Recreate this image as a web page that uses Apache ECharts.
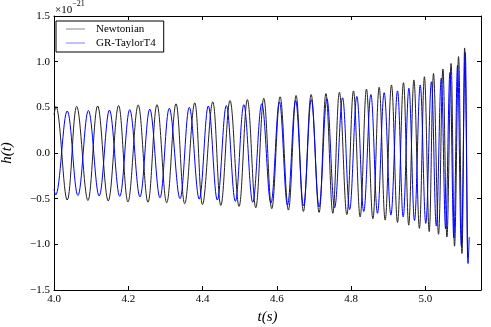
<!DOCTYPE html>
<html>
<head>
<meta charset="utf-8">
<script src="https://cdn.jsdelivr.net/npm/echarts@6/dist/echarts.min.js"></script>
<style>
  html, body { margin: 0; padding: 0; background: #fff; }
  #chart { width: 491px; height: 327px; }
</style>
</head>
<body>
<div id="chart"></div>
<script>
  // peaks / troughs, t in s, h in units of 1e-21
  const newtonianT = [4.0000, 4.0051, 4.0356, 4.0612, 4.0914, 4.1175, 4.1461, 4.1739, 4.1992, 4.2267,
    4.2531, 4.2774, 4.3035, 4.3286, 4.3520, 4.3790, 4.4000, 4.4275, 4.4493, 4.4741,
    4.4984, 4.5208, 4.5434, 4.5650, 4.5865, 4.6089, 4.6313, 4.6520, 4.6717, 4.6925,
    4.7140, 4.7323, 4.7509, 4.7687, 4.7887, 4.8065, 4.8245, 4.8415, 4.8588, 4.8757,
    4.8919, 4.9089, 4.9251, 4.9412, 4.9553, 4.9693, 4.9841, 4.9976, 5.0105, 5.0221,
    5.0356, 5.0474, 5.0582, 5.0693, 5.0787, 5.0895, 5.0987, 5.1059, 5.1137]
  const newtonianH = [0.42, 0.51, -0.515, 0.51, -0.52, 0.515, -0.525, 0.52, -0.535, 0.525,
    -0.54, 0.53, -0.545, 0.54, -0.555, 0.55, -0.565, 0.56, -0.575, 0.575,
    -0.585, 0.585, -0.60, 0.60, -0.61, 0.615, -0.625, 0.63, -0.64, 0.64,
    -0.65, 0.65, -0.66, 0.665, -0.675, 0.68, -0.70, 0.70, -0.72, 0.72,
    -0.735, 0.745, -0.76, 0.77, -0.79, 0.80, -0.825, 0.835, -0.86, 0.87,
    -0.89, 0.92, -0.92, 0.98, -1.02, 1.055, -1.10, 1.15, -1.15]

  const taylorT = [4.0000, 4.0043, 4.0356, 4.0644, 4.0927, 4.1216, 4.1493, 4.1771, 4.2040, 4.2315,
    4.2580, 4.2854, 4.3105, 4.3394, 4.3644, 4.3911, 4.4156, 4.4399, 4.4642, 4.4884,
    4.5113, 4.5353, 4.5596, 4.5841, 4.6070, 4.6288, 4.6507, 4.6720, 4.6930, 4.7140,
    4.7350, 4.7558, 4.7771, 4.7962, 4.8156, 4.8342, 4.8534, 4.8712, 4.8892, 4.9073,
    4.9251, 4.9404, 4.9558, 4.9709, 4.9863, 5.0013, 5.0164, 5.0296, 5.0429, 5.0547,
    5.0663, 5.0768, 5.0868, 5.0970, 5.1075, 5.1151, 5.1183]
  const taylorH = [-0.40, -0.46, 0.46, -0.465, 0.465, -0.47, 0.47, -0.475, 0.475, -0.48,
    0.48, -0.49, 0.49, -0.50, 0.50, -0.505, 0.515, -0.515, 0.52, -0.53,
    0.53, -0.54, 0.54, -0.55, 0.56, -0.57, 0.575, -0.58, 0.585, -0.59,
    0.595, -0.60, 0.605, -0.62, 0.62, -0.64, 0.64, -0.66, 0.66, -0.68,
    0.68, -0.70, 0.71, -0.74, 0.745, -0.77, 0.78, -0.80, 0.82, -0.83,
    0.88, -0.93, 0.96, -1.02, 1.10, -1.21, -0.92]

  const serif = 'Liberation Serif'
  const fmt = (v) => v.toFixed(1).replace('-', '\u2212')
  // thin line used as legend sample (corner moves keep the box size)
  const lineIcon = 'path://M0,0 M19,12 M0,5.5 L19,5.5 L19,6.5 L0,6.5 Z'

  const chart = echarts.init(document.getElementById('chart'))

  const frameAxis = {
    axisLine: { show: true, onZero: false, lineStyle: { color: '#000', width: 1 } },
    axisTick: { show: true, inside: true, length: 4, lineStyle: { color: '#000' } },
    splitLine: { show: false },
  }

  const option = {
    animation: false,
    backgroundColor: '#fff',
    grid: { left: 54, right: 10, top: 16, bottom: 37, outerBoundsMode: 'none' },
    legend: {
      orient: 'vertical',
      left: 56,
      top: 21,
      itemWidth: 19,
      itemHeight: 12,
      itemGap: 2,
      padding: [2, 8, 3, 10],
      borderColor: '#000',
      borderWidth: 1,
      backgroundColor: '#fff',
      textStyle: { fontFamily: serif, fontSize: 11, color: '#000', padding: [0, 0, 0, 6] },
      data: [
        { name: 'Newtonian', icon: lineIcon, itemStyle: { color: '#888' } },
        { name: 'GR-TaylorT4', icon: lineIcon, itemStyle: { color: '#8080ff' } },
      ],
    },
    xAxis: [
      Object.assign({}, frameAxis, {
        type: 'value', min: 4.0, max: 5.15, interval: 0.2,
        name: 't(s)', nameLocation: 'middle', nameGap: 15,
        nameTextStyle: { fontFamily: serif, fontStyle: 'italic', fontSize: 15, color: '#000' },
        axisLabel: { fontFamily: serif, fontSize: 11, color: '#000', margin: 4, showMaxLabel: false, formatter: fmt },
      }),
      Object.assign({}, frameAxis, {
        type: 'value', position: 'top', min: 4.0, max: 5.15, interval: 0.2,
        axisLabel: { show: false },
      }),
    ],
    yAxis: [
      Object.assign({}, frameAxis, {
        type: 'value', min: -1.5, max: 1.5, interval: 0.5,
        name: 'h(t)', nameLocation: 'middle', nameGap: 39, nameRotate: 90,
        nameTextStyle: { fontFamily: serif, fontStyle: 'italic', fontSize: 15, color: '#000' },
        axisLabel: { fontFamily: serif, fontSize: 11, color: '#000', margin: 4, formatter: fmt },
      }),
      Object.assign({}, frameAxis, {
        type: 'value', position: 'right', min: -1.5, max: 1.5, interval: 0.5,
        axisLabel: { show: false },
      }),
    ],
    graphic: [
      {
        type: 'text',
        left: 55,
        top: 0,
        style: {
          text: '{a|\u00d710}{b|\u221221}',
          rich: {
            a: { fontFamily: serif, fontSize: 11, color: '#000', lineHeight: 16, verticalAlign: 'bottom' },
            b: { fontFamily: serif, fontSize: 8, color: '#000', lineHeight: 14, verticalAlign: 'top' },
          },
        },
      },
    ],
    series: [
      {
        name: 'Newtonian',
        type: 'line',
        symbol: 'none',
        smooth: 0.38,
        lineStyle: { color: '#222', width: 1 },
        itemStyle: { color: '#222' },
        data: newtonianT.map((t, i) => [t, newtonianH[i]]),
      },
      {
        name: 'GR-TaylorT4',
        type: 'line',
        symbol: 'none',
        smooth: 0.38,
        lineStyle: { color: '#0000ff', width: 1 },
        itemStyle: { color: '#0000ff' },
        data: taylorT.map((t, i) => [t, taylorH[i]]),
      },
    ],
  }

  chart.setOption(option)
</script>
</body>
</html>
